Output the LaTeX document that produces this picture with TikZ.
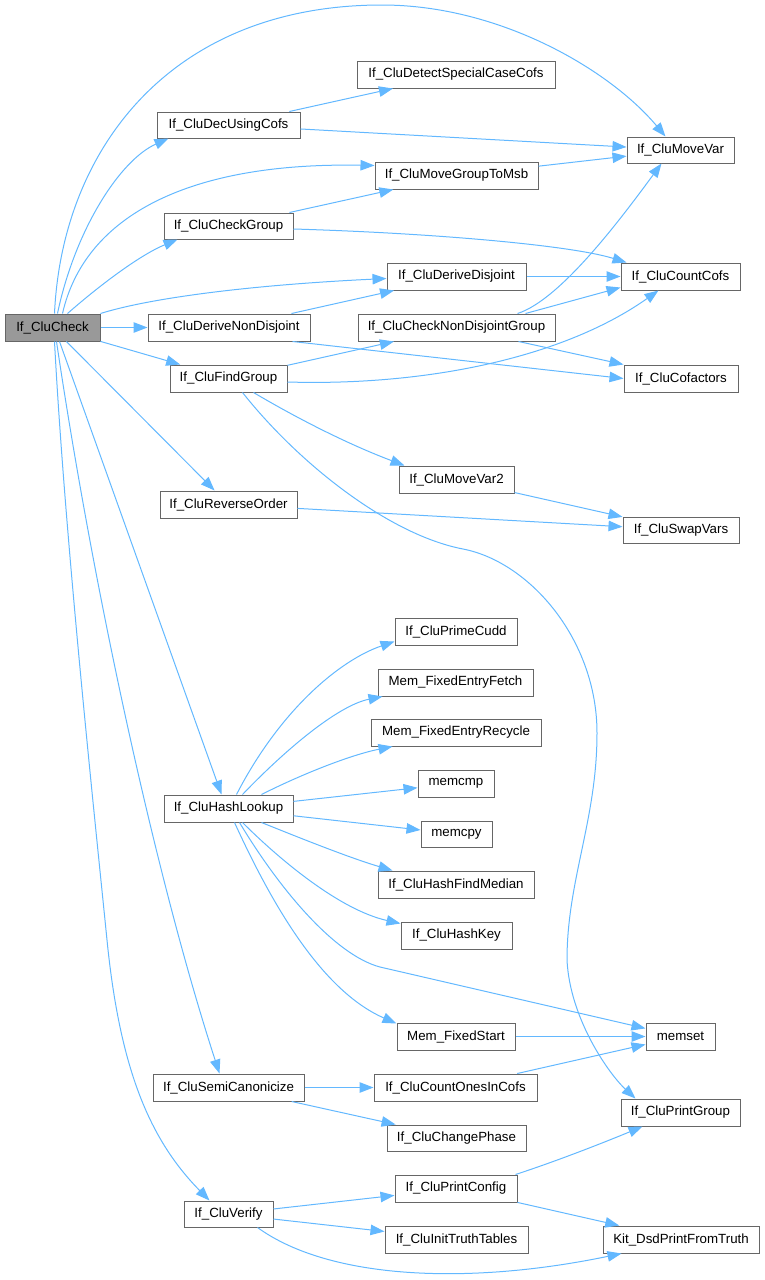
\documentclass[tikz,border=0pt]{standalone}
\usepackage{fontspec}
\setmainfont{Liberation Sans}
\usetikzlibrary{arrows.meta}
\definecolor{eb}{HTML}{63B8FF}
\definecolor{bd}{HTML}{666666}
\definecolor{gf}{HTML}{999999}
\newcommand{\fnode}[7][white]{\node[fn, fill=#1, minimum width=#5-#3, minimum height=#6-#4] (#2) at ({(#3+#5)/2},{(#4+#6)/2}) {#7};}
\begin{document}
\begin{tikzpicture}[x=1pt, y=-1pt,
  fn/.style={draw=bd, line width=1pt, inner sep=0pt, font=\fontsize{13.3}{16}\selectfont, text=black},
  ar/.style={draw=eb, line width=1pt, -{Triangle[length=14pt,width=10.5pt]}}]
\useasboundingbox (0,0) rectangle (764,1280);
% nodes
\fnode[gf]{chk}{5}{314}{100}{341}{If\_CluCheck}
\fnode{dec}{157}{112}{300}{138}{If\_CluDecUsingCofs}
\fnode{ds}{357}{61}{555}{88}{If\_CluDetectSpecialCaseCofs}
\fnode{mv}{627}{137}{734}{163}{If\_CluMoveVar}
\fnode{mgm}{375}{162}{538}{189}{If\_CluMoveGroupToMsb}
\fnode{cg}{164}{213}{293}{239}{If\_CluCheckGroup}
\fnode{dd}{387}{263}{526}{290}{If\_CluDeriveDisjoint}
\fnode{cc}{621}{263}{740}{290}{If\_CluCountCofs}
\fnode{dnd}{148}{314}{310}{341}{If\_CluDeriveNonDisjoint}
\fnode{cndg}{358}{314}{555}{341}{If\_CluCheckNonDisjointGroup}
\fnode{fg}{170}{365}{287}{392}{If\_CluFindGroup}
\fnode{cof}{624}{365}{738}{392}{If\_CluCofactors}
\fnode{ro}{160}{491}{297}{518}{If\_CluReverseOrder}
\fnode{mv2}{399}{466}{514}{493}{If\_CluMoveVar2}
\fnode{sv}{623}{517}{739}{543}{If\_CluSwapVars}
\fnode{pcu}{395}{618}{517}{645}{If\_CluPrimeCudd}
\fnode{mfef}{378}{669}{533}{696}{Mem\_FixedEntryFetch}
\fnode{mfer}{371}{719}{541}{746}{Mem\_FixedEntryRecycle}
\fnode{mcmp}{418}{770}{494}{797}{memcmp}
\fnode{mcpy}{421}{821}{492}{847}{memcpy}
\fnode{hfm}{378}{871}{534}{898}{If\_CluHashFindMedian}
\fnode{hk}{401}{922}{512}{949}{If\_CluHashKey}
\fnode{hl}{164}{795}{293}{822}{If\_CluHashLookup}
\fnode{mfs}{397}{1023}{515}{1050}{Mem\_FixedStart}
\fnode{ms}{646}{1023}{715}{1050}{memset}
\fnode{coi}{374}{1074}{537}{1101}{If\_CluCountOnesInCofs}
\fnode{pg}{621}{1099}{740}{1126}{If\_CluPrintGroup}
\fnode{cph}{387}{1125}{526}{1151}{If\_CluChangePhase}
\fnode{sc}{153}{1074}{304}{1101}{If\_CluSemiCanonicize}
\fnode{pcf}{395}{1175}{517}{1202}{If\_CluPrintConfig}
\fnode{vf}{184}{1201}{273}{1227}{If\_CluVerify}
\fnode{itt}{385}{1226}{528}{1253}{If\_CluInitTruthTables}
\fnode{kit}{603}{1226}{759}{1253}{Kit\_DsdPrintFromTruth}
% edges from If_CluCheck
\draw[ar] ([xshift=2pt]chk.north) .. controls (62,150) and (170,5) .. (382,5) .. controls (500,5) and (610,70) .. ([xshift=39pt]mv.north west);
\draw[ar] ([xshift=5pt]chk.north) .. controls (75,230) and (120,160) .. ([xshift=12pt]dec.south west);
\draw[ar] ([xshift=10pt]chk.north) .. controls (85,215) and (190,162) .. ([yshift=10pt]mgm.west);
\draw[ar] ([xshift=15pt]chk.north) .. controls (100,285) and (140,255) .. ([xshift=14pt]cg.south west);
\draw[ar] (chk.north east) .. controls (150,298) and (250,285) .. ([yshift=-2pt]dd.west);
\draw[ar] (chk) -- (dnd);
\draw[ar] (chk) -- (fg);
\draw[ar] (chk) -- (ro);
\draw[ar] ([xshift=7pt]chk.south) -- ([xshift=58pt]hl.north west);
\draw[ar] ([xshift=4pt]chk.south) .. controls (92,581) and (154,872) .. ([xshift=67pt]sc.north west);
\draw[ar] ([xshift=2pt]chk.south) .. controls (65,540) and (95,820) .. (107,940) .. controls (120,1070) and (150,1140) .. ([xshift=26pt]vf.north west);
% upper part
\draw[ar] (dec) -- (ds);
\draw[ar] (dec) -- (mv);
\draw[ar] (mgm) -- (mv);
\draw[ar] (cg) -- (mgm);
\draw[ar] ([yshift=-3pt]cg.east) .. controls (430,233) and (570,245) .. ([xshift=6pt]cc.north west);
\draw[ar] (dd) -- (cc);
\draw[ar] (dnd) -- (dd);
\draw[ar] ([xshift=-18pt]dnd.south east) -- (cof.west);
\draw[ar] ([xshift=-38pt]cndg.north east) .. controls (560,300) and (620,220) .. ([xshift=35pt]mv.south west);
\draw[ar] ([xshift=-30pt]cndg.north east) -- ([yshift=-11pt]cc.west);
\draw[ar] ([xshift=-37pt]cndg.south east) -- (cof.north west);
\draw[ar] (fg) -- (cndg);
\draw[ar] ([yshift=-3.5pt]fg.east) .. controls (420,386) and (560,360) .. ([xshift=38pt]cc.south west);
\draw[ar] ([xshift=-34pt]fg.south east) .. controls (300,420) and (350,445) .. ([xshift=6pt]mv2.north west);
\draw[ar] ([xshift=-45pt]fg.south east) .. controls (300,465) and (390,535) .. (463,549) .. controls (530,562) and (597,640) .. (597,733) .. controls (597,820) and (567,880) .. (567,960) .. controls (570,1020) and (610,1075) .. ([xshift=15pt]pg.north west);
\draw[ar] (mv2) -- (sv);
\draw[ar] (ro) -- (sv);
% HashLookup fan
\draw[ar] ([xshift=73pt]hl.north west) .. controls (280,710) and (340,660) .. ([yshift=-10pt]pcu.west);
\draw[ar] ([xshift=79pt]hl.north west) .. controls (290,745) and (340,705) .. ([xshift=5pt]mfef.south west);
\draw[ar] ([xshift=98pt]hl.north west) .. controls (300,775) and (350,755) .. ([xshift=22pt]mfer.south west);
\draw[ar] (hl) -- (mcmp);
\draw[ar] (hl) -- (mcpy);
\draw[ar] ([xshift=98pt]hl.south west) .. controls (300,838) and (350,858) .. ([xshift=15pt]hfm.north west);
\draw[ar] ([xshift=79pt]hl.south west) .. controls (280,860) and (340,910) .. ([yshift=-2pt]hk.north west);
\draw[ar] ([xshift=76pt]hl.south west) .. controls (280,890) and (335,955) .. (380,967) -- (ms);
\draw[ar] ([xshift=71pt]hl.south west) .. controls (270,900) and (320,990) .. ([yshift=-1pt]mfs.north west);
\draw[ar] (mfs) -- (ms);
\draw[ar] (coi) -- (ms);
% lower part
\draw[ar] (sc) -- (coi);
\draw[ar] (sc) -- (cph);
\draw[ar] (vf) -- (pcf);
\draw[ar] (vf) -- (itt);
\draw[ar] ([xshift=-16pt]vf.south east) .. controls (330,1280) and (470,1285) .. ([xshift=19pt]kit.south west);
\draw[ar] ([xshift=-2pt]pcf.north east) .. controls (560,1160) and (610,1140) .. ([xshift=22pt]pg.south west);
\draw[ar] (pcf) -- (kit);
\end{tikzpicture}
\end{document}
